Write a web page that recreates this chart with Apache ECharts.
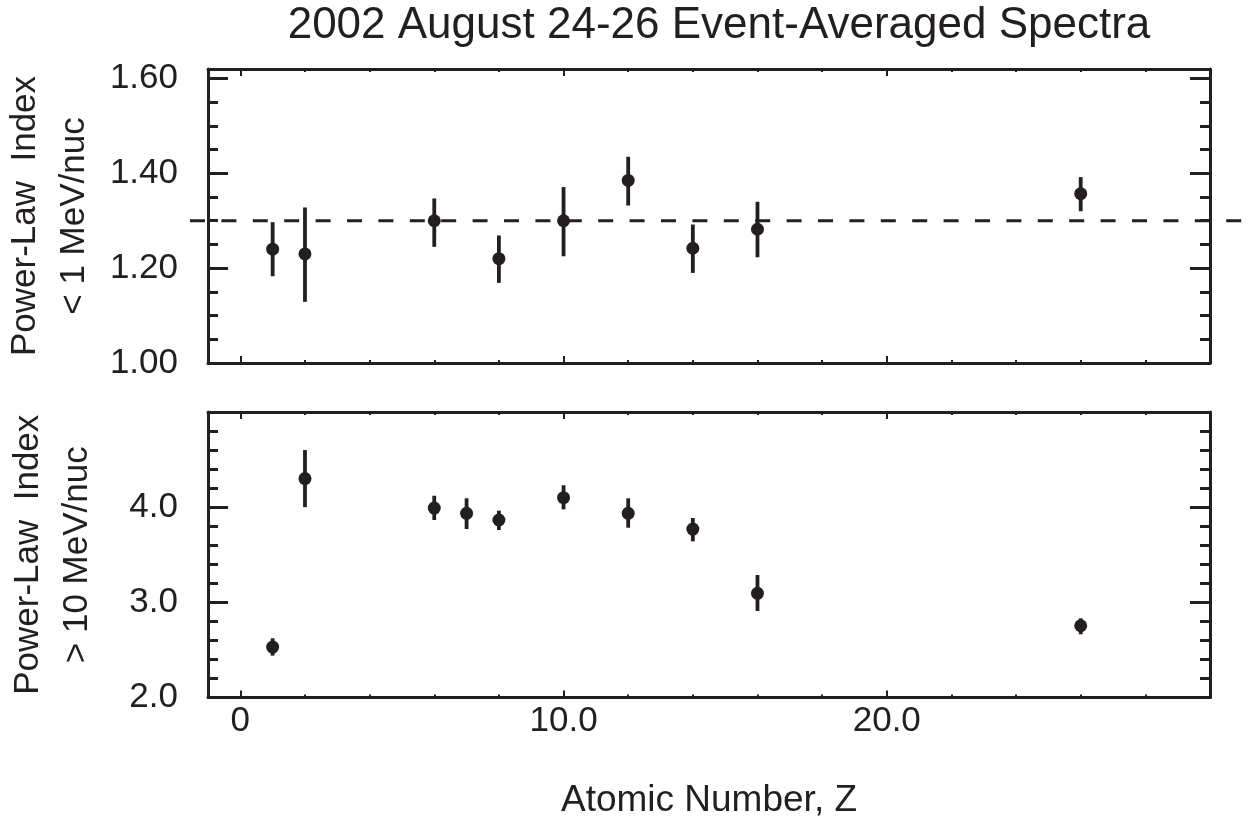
<!DOCTYPE html>
<html>
<head>
<meta charset="utf-8">
<script src="https://cdn.jsdelivr.net/npm/echarts@6/dist/echarts.min.js"></script>
<style>
html,body{margin:0;padding:0;background:#fff;}
#chart{width:1249px;height:825px;}
</style>
</head>
<body>
<div id="chart"></div>
<script>
// ---- Data ----
const titleText = '2002 August 24-26 Event-Averaged Spectra';
const xName = 'Atomic Number, Z';
const yNameTop = 'Power-Law  Index\n< 1 MeV/nuc';
const yNameBottom = 'Power-Law  Index\n> 10 MeV/nuc';

// Top panel (< 1 MeV/nuc)
const zTop = [1, 2, 6, 8, 10, 12, 14, 16, 26];
const idxTop = [1.24, 1.23, 1.30, 1.22, 1.30, 1.385, 1.242, 1.282, 1.357];
const idxTopLow = [1.183, 1.129, 1.245, 1.169, 1.225, 1.332, 1.190, 1.223, 1.320];
const idxTopHigh = [1.297, 1.328, 1.347, 1.269, 1.371, 1.435, 1.292, 1.340, 1.392];
const refLine = 1.30;

// Bottom panel (> 10 MeV/nuc)
const zBot = [1, 2, 6, 7, 8, 10, 12, 14, 16, 26];
const idxBot = [2.53, 4.30, 3.99, 3.935, 3.865, 4.10, 3.935, 3.77, 3.095, 2.754];
const idxBotLow = [2.44, 4.00, 3.865, 3.77, 3.76, 3.977, 3.784, 3.641, 2.909, 2.664];
const idxBotHigh = [2.622, 4.60, 4.12, 4.093, 3.963, 4.23, 4.093, 3.886, 3.287, 2.832];

// Axis ticks / labels
const xMajorTicks = [0, 10, 20, 30];
const xMinorTicks = [2, 4, 6, 8, 12, 14, 16, 18, 22, 24, 26, 28];
const xLabelValues = [0, 10, 20];
const yTopMajor = [1.0, 1.2, 1.4, 1.6];
const yTopMinor = [1.05, 1.10, 1.15, 1.25, 1.30, 1.35, 1.45, 1.50, 1.55];
const yBotMajor = [2, 3, 4, 5];
const yBotMinor = [2.2, 2.4, 2.6, 2.8, 3.2, 3.4, 3.6, 3.8, 4.2, 4.4, 4.6, 4.8];
const yBotLabels = [2, 3, 4];

// ---- Style ----
const INK = '#231f20';
const FONT = '"Liberation Sans", Arial, Helvetica, sans-serif';
const X_MIN = -1, X_MAX = 30;
const YT_MIN = 1.0, YT_MAX = 1.62;
const YB_MIN = 2.0, YB_MAX = 5.0;

const chart = echarts.init(document.getElementById('chart'), null, {renderer: 'canvas'});

function xAxisDef(gridIndex, position, ticks, tickLen, opts) {
  return Object.assign({
    type: 'value', gridIndex, position, min: X_MIN, max: X_MAX,
    axisLine: {show: false, onZero: false},
    axisTick: {show: true, inside: true, length: tickLen, customValues: ticks,
      lineStyle: {color: INK, width: 2}},
    axisLabel: {show: false},
    splitLine: {show: false}
  }, opts || {});
}
function yAxisDef(gridIndex, position, min, max, ticks, tickLen, opts) {
  return Object.assign({
    type: 'value', gridIndex, position, min, max,
    axisLine: {show: false, onZero: false},
    axisTick: {show: true, inside: true, length: tickLen, customValues: ticks,
      lineStyle: {color: INK, width: 3}},
    axisLabel: {show: false},
    splitLine: {show: false}
  }, opts || {});
}
const frameLine = {show: true, onZero: false, lineStyle: {color: INK, width: 3}};

const xAxes = [
  // grid 0 (top panel)
  xAxisDef(0, 'bottom', xMajorTicks, 7, {axisLine: frameLine}),
  xAxisDef(0, 'bottom', xMinorTicks, 3),
  xAxisDef(0, 'top', xMajorTicks, 7, {axisLine: frameLine}),
  xAxisDef(0, 'top', xMinorTicks, 3),
  // grid 1 (bottom panel)
  xAxisDef(1, 'bottom', xMajorTicks, 7, {
    axisLine: frameLine,
    axisLabel: {show: true, customValues: xLabelValues, margin: 6, color: INK,
      fontFamily: FONT, fontSize: 35,
      formatter: v => (v === 0 ? '0' : v.toFixed(1))},
    name: xName, nameLocation: 'middle', nameGap: 85,
    nameTextStyle: {color: INK, fontFamily: FONT, fontSize: 37}
  }),
  xAxisDef(1, 'bottom', xMinorTicks, 3),
  xAxisDef(1, 'top', xMajorTicks, 7, {axisLine: frameLine}),
  xAxisDef(1, 'top', xMinorTicks, 3),
  // grid 2 (reference dashed line, wider than frame)
  {type: 'value', gridIndex: 2, min: 0, max: 1, show: false}
];

const yAxes = [
  // grid 0
  yAxisDef(0, 'left', YT_MIN, YT_MAX, yTopMajor, 20, {
    axisLine: frameLine,
    axisLabel: {show: true, customValues: yTopMajor, margin: 30, color: INK,
      fontFamily: FONT, fontSize: 35, formatter: v => v.toFixed(2)},
    name: yNameTop, nameLocation: 'middle', nameGap: 106, nameRotate: 90,
    nameTextStyle: {color: INK, fontFamily: FONT, fontSize: 35, lineHeight: 49}
  }),
  yAxisDef(0, 'left', YT_MIN, YT_MAX, yTopMinor, 10),
  yAxisDef(0, 'right', YT_MIN, YT_MAX, yTopMajor, 20, {axisLine: frameLine}),
  yAxisDef(0, 'right', YT_MIN, YT_MAX, yTopMinor, 10),
  // grid 1
  yAxisDef(1, 'left', YB_MIN, YB_MAX, yBotMajor, 20, {
    axisLine: frameLine,
    axisLabel: {show: true, customValues: yBotLabels, margin: 30, color: INK,
      fontFamily: FONT, fontSize: 35, formatter: v => v.toFixed(1)},
    name: yNameBottom, nameLocation: 'middle', nameGap: 106, nameRotate: 90,
    nameTextStyle: {color: INK, fontFamily: FONT, fontSize: 35, lineHeight: 49}
  }),
  yAxisDef(1, 'left', YB_MIN, YB_MAX, yBotMinor, 10),
  yAxisDef(1, 'right', YB_MIN, YB_MAX, yBotMajor, 20, {axisLine: frameLine}),
  yAxisDef(1, 'right', YB_MIN, YB_MAX, yBotMinor, 10),
  // grid 2
  {type: 'value', gridIndex: 2, min: YT_MIN, max: YT_MAX, show: false}
];

function errorBarSeries(xIdx, yIdx, zs, lows, highs) {
  return {
    type: 'custom', xAxisIndex: xIdx, yAxisIndex: yIdx, z: 3,
    data: zs.map((z, i) => [z, lows[i], highs[i]]),
    encode: {x: 0, y: [1, 2]},
    renderItem: function (params, api) {
      const p1 = api.coord([api.value(0), api.value(1)]);
      const p2 = api.coord([api.value(0), api.value(2)]);
      return {type: 'line', shape: {x1: p1[0], y1: p1[1], x2: p2[0], y2: p2[1]},
        style: {stroke: INK, lineWidth: 3.8}};
    },
    silent: true
  };
}
function pointSeries(xIdx, yIdx, zs, vals) {
  return {
    type: 'scatter', xAxisIndex: xIdx, yAxisIndex: yIdx, z: 4,
    data: zs.map((z, i) => [z, vals[i]]),
    symbol: 'circle', symbolSize: 13,
    itemStyle: {color: INK, opacity: 1}, silent: true
  };
}

const option = {
  backgroundColor: '#ffffff',
  animation: false,
  title: {
    text: titleText, left: 714, textAlign: 'center', top: -1,
    textStyle: {color: INK, fontFamily: FONT, fontSize: 44, fontWeight: 'normal'}
  },
  grid: [
    {left: 208, right: 39, top: 69, height: 294, containLabel: false, outerBoundsMode: 'none'},
    {left: 208, right: 39, top: 412, height: 285.5, containLabel: false, outerBoundsMode: 'none'},
    {left: 190, right: 7, top: 69, height: 294, containLabel: false, outerBoundsMode: 'none'}
  ],
  xAxis: xAxes,
  yAxis: yAxes,
  series: [
    {
      type: 'line', xAxisIndex: 8, yAxisIndex: 8, z: 2,
      data: [[0, refLine], [1, refLine]], symbol: 'none',
      lineStyle: {color: INK, width: 3, type: [15, 16.4]}, silent: true
    },
    errorBarSeries(0, 0, zTop, idxTopLow, idxTopHigh),
    pointSeries(0, 0, zTop, idxTop),
    errorBarSeries(4, 4, zBot, idxBotLow, idxBotHigh),
    pointSeries(4, 4, zBot, idxBot)
  ]
};
chart.setOption(option);
</script>
</body>
</html>
